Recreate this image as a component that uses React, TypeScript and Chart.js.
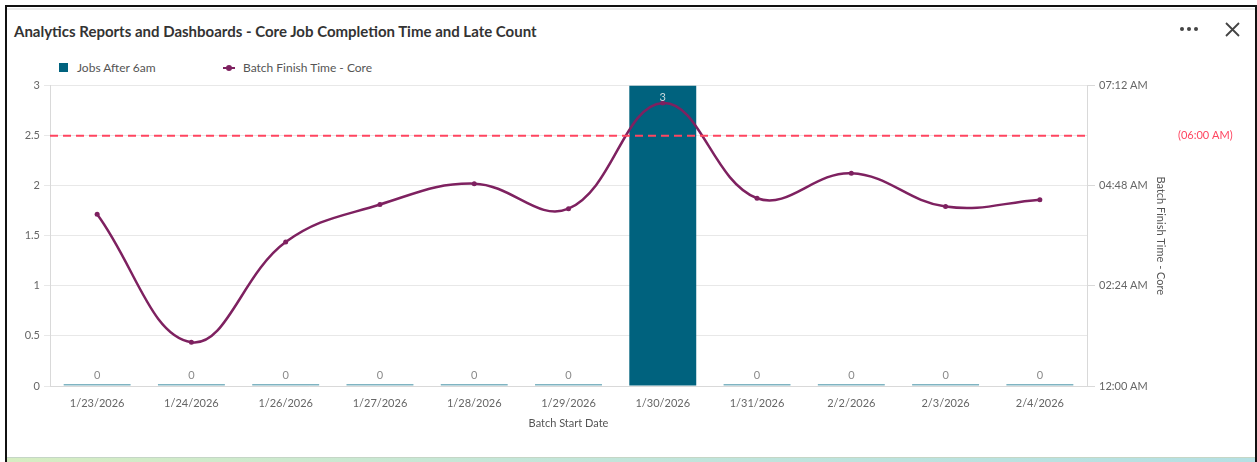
import React, { useEffect, useRef } from "react";
import { Chart, registerables } from "chart.js";

Chart.register(...registerables);

const TITLE = "Analytics Reports and Dashboards - Core Job Completion Time and Late Count";
const categories = ["1/23/2026", "1/24/2026", "1/26/2026", "1/27/2026", "1/28/2026", "1/29/2026", "1/30/2026", "1/31/2026", "2/2/2026", "2/3/2026", "2/4/2026"];
const jobsAfter6am = [0, 0, 0, 0, 0, 0, 3, 0, 0, 0, 0];
const batchFinishTimes = ["04:07", "01:03", "03:27", "04:21", "04:51", "04:15", "06:47", "04:30", "05:06", "04:18", "04:28"];
const leftTicks = [0, 0.5, 1, 1.5, 2, 2.5, 3];
const rightTickMinutes = [0, 144, 288, 432];
const thresholdMinutes = 360;
const thresholdLabel = "(06:00 AM)";

const FONT = "Lato, 'Open Sans', sans-serif";
const BAR_COLOR = "#00627e";
const ZERO_BAR_COLOR = "#7fb4c2";
const LINE_COLOR = "#7e2160";
const RED = "#ff4560";

const toMinutes = (s: string) => {
  const [h, m] = s.split(":").map(Number);
  return h * 60 + m;
};
const fmtTime = (min: number) => {
  let h = Math.floor(min / 60);
  const m = Math.round(min % 60);
  const ampm = h >= 12 ? "PM" : "AM";
  h = h % 12;
  if (h === 0) h = 12;
  return `${String(h).padStart(2, "0")}:${String(m).padStart(2, "0")} ${ampm}`;
};

const overlayPlugin = {
  id: "overlay",
  afterDatasetsDraw(chart: any) {
    const { ctx, chartArea } = chart;
    const y1 = chart.scales.y1;
    const ty = y1.getPixelForValue(thresholdMinutes);
    ctx.save();
    ctx.strokeStyle = RED;
    ctx.lineWidth = 2;
    ctx.setLineDash([8, 5]);
    ctx.beginPath();
    ctx.moveTo(chartArea.left, ty);
    ctx.lineTo(chartArea.right, ty);
    ctx.stroke();
    ctx.setLineDash([]);
    ctx.fillStyle = RED;
    ctx.font = `11px ${FONT}`;
    ctx.textAlign = "left";
    ctx.textBaseline = "middle";
    ctx.fillText(thresholdLabel, chartArea.right + 91, ty);
    const meta = chart.getDatasetMeta(0);
    meta.data.forEach((bar: any, i: number) => {
      const v = jobsAfter6am[i];
      ctx.font = `11px ${FONT}`;
      ctx.textAlign = "center";
      ctx.textBaseline = "middle";
      if (bar.y - 11 < chartArea.top + 4) {
        ctx.fillStyle = "#c9d9de";
        ctx.fillText(String(v), bar.x, bar.y + 12);
      } else {
        ctx.fillStyle = "#8a8a8a";
        ctx.fillText(String(v), bar.x, chartArea.bottom - 11);
      }
    });
    ctx.restore();
  },
};

function ChartCanvas() {
  const ref = useRef<HTMLCanvasElement | null>(null);
  useEffect(() => {
    if (!ref.current) return;
    const chart = new Chart(ref.current, {
      type: "bar",
      data: {
        labels: categories,
        datasets: [
          {
            type: "bar",
            label: "Jobs After 6am",
            data: jobsAfter6am,
            backgroundColor: jobsAfter6am.map((v) => (v === 0 ? ZERO_BAR_COLOR : BAR_COLOR)),
            yAxisID: "y",
            barPercentage: 0.71,
            categoryPercentage: 1,
            minBarLength: 2,
            order: 2,
          } as any,
          {
            type: "line",
            label: "Batch Finish Time - Core",
            data: batchFinishTimes.map(toMinutes),
            borderColor: LINE_COLOR,
            backgroundColor: LINE_COLOR,
            borderWidth: 2.5,
            pointRadius: 2.5,
            pointBorderWidth: 0,
            tension: 0.4,
            yAxisID: "y1",
            order: 1,
          } as any,
        ],
      },
      options: {
        animation: false,
        responsive: false,
        maintainAspectRatio: false,
        layout: { padding: { top: 8, right: 79, bottom: 6, left: 0 } },
        plugins: { legend: { display: false }, tooltip: { enabled: false } },
        scales: {
          x: {
            grid: { display: false, drawTicks: true, tickLength: 8 },
            border: { display: true, color: "#d9d9d9" },
            ticks: { color: "#666", font: { family: FONT, size: 11 }, padding: 3, maxRotation: 0 },
            title: { display: true, text: "Batch Start Date", color: "#555", font: { family: FONT, size: 11 } },
            afterFit: (s: any) => { s.height = 48; },
          },
          y: {
            position: "left",
            min: 0,
            max: 3,
            afterBuildTicks: (s: any) => { s.ticks = leftTicks.map((v) => ({ value: v })); },
            grid: { color: "#e8e8e8", tickLength: 6 },
            border: { display: true, color: "#d9d9d9" },
            ticks: { color: "#666", font: { family: FONT, size: 11 }, padding: 4, callback: (v: any) => String(Number(v)) },
            afterFit: (s: any) => { s.width = 42; },
          },
          y1: {
            position: "right",
            min: 0,
            max: 432,
            afterBuildTicks: (s: any) => { s.ticks = rightTickMinutes.map((v) => ({ value: v })); },
            grid: { drawOnChartArea: false, color: "#d9d9d9", tickLength: 8 },
            border: { display: true, color: "#d9d9d9" },
            ticks: { color: "#666", font: { family: FONT, size: 11 }, padding: 4, callback: (v: any) => fmtTime(Number(v)) },
            title: { display: true, text: "Batch Finish Time - Core", color: "#555", font: { family: FONT, size: 11 } },
            afterFit: (s: any) => { s.width = 84; },
          },
        },
      },
      plugins: [overlayPlugin],
    });
    return () => chart.destroy();
  }, []);
  return <canvas ref={ref} width={1242} height={365} style={{ position: "absolute", left: 8, top: 75, width: 1242, height: 365 }} />;
}

export default function App() {
  return (
    <div style={{ position: "fixed", left: 0, top: 0, width: 1257, height: 462, background: "#fff", overflow: "hidden", fontFamily: FONT }}>
      <div style={{ position: "absolute", left: 5, top: 5, width: 2, height: 457, background: "#111" }} />
      <div style={{ position: "absolute", left: 5, top: 5, width: 1252, height: 2, background: "#111" }} />
      <div style={{ position: "absolute", left: 1255, top: 5, width: 2, height: 457, background: "#111" }} />
      <div style={{ position: "absolute", left: 7, top: 8, width: 1248, height: 2, background: "#ececec" }} />
      <div style={{ position: "absolute", left: 7, top: 457, width: 1248, height: 1, background: "#c5d6c6" }} />
      <div style={{ position: "absolute", left: 7, top: 458, width: 1248, height: 4, background: "linear-gradient(90deg, #d6edc2 0%, #c4e6d8 40%, #b5e0e3 100%)" }} />
      <div style={{ position: "absolute", left: 14, top: 21, fontSize: 15, fontWeight: 700, color: "#333", whiteSpace: "nowrap", lineHeight: "20px" }}>{TITLE}</div>
      <svg style={{ position: "absolute", left: 1178, top: 22 }} width={24} height={14}>
        <circle cx={4} cy={7} r={2} fill="#444" />
        <circle cx={11} cy={7} r={2} fill="#444" />
        <circle cx={18} cy={7} r={2} fill="#444" />
      </svg>
      <svg style={{ position: "absolute", left: 1224, top: 21 }} width={17} height={17}>
        <path d="M2 2 L15 15 M15 2 L2 15" stroke="#444" strokeWidth={1.8} />
      </svg>
      <div style={{ position: "absolute", left: 59, top: 63, width: 9, height: 9, background: BAR_COLOR }} />
      <div style={{ position: "absolute", left: 77, top: 59, fontSize: 12, color: "#555", lineHeight: "18px", whiteSpace: "nowrap" }}>Jobs After 6am</div>
      <svg style={{ position: "absolute", left: 222, top: 63 }} width={14} height={10}>
        <line x1={1} y1={5} x2={13} y2={5} stroke={LINE_COLOR} strokeWidth={2} />
        <circle cx={7} cy={5} r={3} fill={LINE_COLOR} />
      </svg>
      <div style={{ position: "absolute", left: 243, top: 59, fontSize: 12, color: "#555", lineHeight: "18px", whiteSpace: "nowrap" }}>Batch Finish Time - Core</div>
      <ChartCanvas />
    </div>
  );
}
